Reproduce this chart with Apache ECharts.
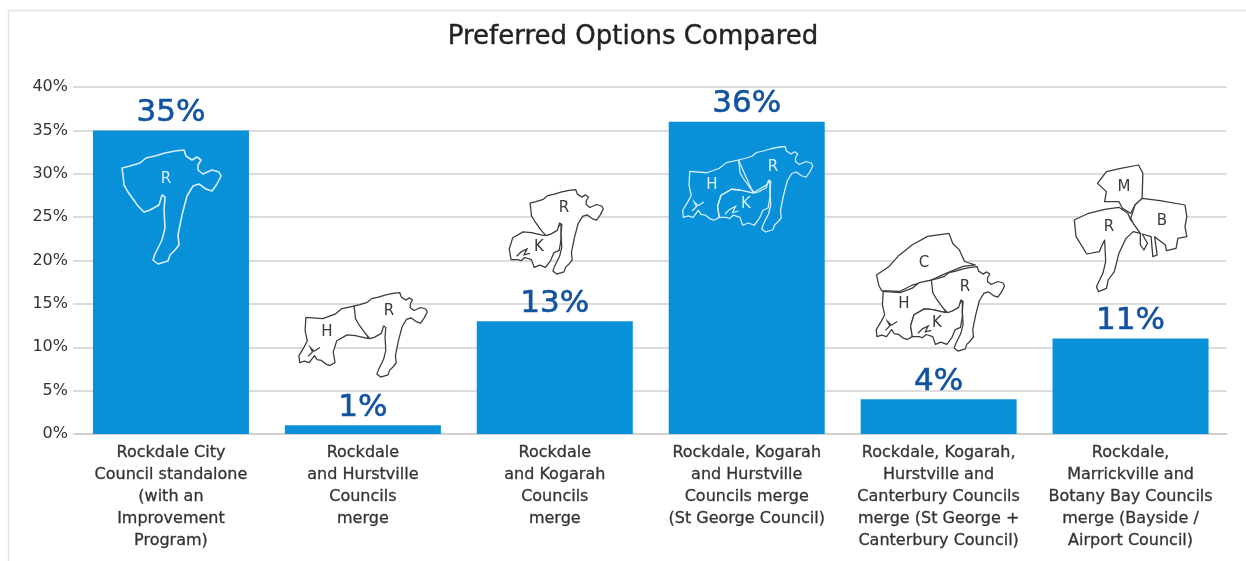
<!DOCTYPE html>
<html><head><meta charset="utf-8">
<style>html,body{margin:0;padding:0;background:#fff}#c{width:1246px;height:561px}</style>
<script src="https://cdn.jsdelivr.net/npm/echarts@6/dist/echarts.min.js"></script>
</head><body><div id="c"></div>
<script>
const categories = [
 "Rockdale City\nCouncil standalone\n(with an\nImprovement\nProgram)",
 "Rockdale\nand Hurstville\nCouncils\nmerge",
 "Rockdale\nand Kogarah\nCouncils\nmerge",
 "Rockdale, Kogarah\nand Hurstville\nCouncils merge\n(St George Council)",
 "Rockdale, Kogarah,\nHurstville and\nCanterbury Councils\nmerge (St George +\nCanterbury Council)",
 "Rockdale,\nMarrickville and\nBotany Bay Councils\nmerge (Bayside /\nAirport Council)"
];
const values = [35, 1, 13, 36, 4, 11];
const FONT = '"DejaVu Sans","Noto Sans",sans-serif';

// decorative council outlines, in the scale of the first (largest) map
const shapeR = [[122,168],[130,166],[140,163],[146,158],[155,156],[165,153],[175,151],[184,150],[186,156],[192,160],[197,157],[201,160],[198,165],[198,170],[203,174],[212,170],[219,172],[221,176],[217,184],[212,191],[206,189],[199,184],[193,186],[187,196],[182,215],[178,235],[179,245],[175,250],[170,255],[168,261],[158,264],[153,260],[155,254],[162,240],[165,228],[164,210],[165,197],[162,195],[159,205],[150,210],[144,212],[138,206],[128,192],[124,185],[123,175]];
const shapeH = [[122,168],[105.7,171.5],[96.4,179],[80,185],[57,183.3],[56,201.5],[59,215],[54.6,223.5],[47.6,235],[48.5,244.5],[55,242.6],[61.5,244.5],[68.5,235],[72,240.6],[78,241.6],[84,246.4],[89.4,248.3],[96.4,244.5],[94,230],[98.7,215],[112.7,207],[124,208],[141.5,212]];
const shapeK = [[141.5,212],[159,201.5],[164,195],[164,217],[161.5,232],[154.5,235],[150,245.4],[143,255],[135,252],[127.6,255],[124,244.5],[115,241.6],[110,246],[105.7,244.5],[96.4,244.5],[94,230],[98.7,215],[112.7,207],[124,208]];
const shapeC = [[48,161.2],[65,149.6],[77,136],[96,120.6],[117,109],[146,105],[151,118.6],[160,127.3],[167,143],[181.5,147.7],[165,149.6],[141,159.3],[122,168],[96,175],[79,183.5],[55,182.5],[51,175]];
const coastH = [[60,236],[66,230],[63,224],[68,229],[76,224]];
const coastK = [[104,240],[110,234],[118,230],[114,238],[122,236]];
const shapeR6 = [[1160,270],[1200,250],[1245,238],[1285,232],[1310,250],[1318,270],[1340,298],[1345,310],[1325,305],[1305,325],[1285,370],[1272,425],[1255,450],[1250,475],[1228,485],[1222,470],[1240,430],[1248,395],[1245,330],[1238,345],[1230,365],[1195,372],[1165,320]];
const shapeM6 = [[1250,125],[1290,115],[1340,105],[1352,130],[1350,205],[1330,225],[1318,250],[1295,235],[1285,215],[1245,215],[1250,185],[1225,160]];
const shapeB6 = [[1350,205],[1400,212],[1470,225],[1475,260],[1470,290],[1475,320],[1450,325],[1445,355],[1418,362],[1415,345],[1385,320],[1392,375],[1380,380],[1375,320],[1350,312],[1365,340],[1355,360],[1345,345],[1345,310],[1325,280],[1318,265],[1330,225]];

function poly(points, stroke, fill, lineWidth){
  return {type:'polygon', z:10, shape:{points}, style:{stroke, fill, lineWidth, lineJoin:'round'}};
}
function line(points, stroke, lineWidth){
  return {type:'polyline', z:11, shape:{points}, style:{stroke, fill:null, lineWidth}};
}
function mapGroup(x, y, s, children){
  return {type:'group', x, y, scaleX:s, scaleY:s, children};
}
function letter(t, x, y, color, size){
  return {type:'text', z:12, x, y, style:{text:t, fill:color, font:(size||15)+'px '+FONT, align:'center', verticalAlign:'middle'}};
}
const INK = '#3a3a3a', PAPER = '#fff', W = 1.7, PALE = '#d8eefa', NONE = 'transparent';
const maps = [
  mapGroup(0,0,1,[poly(shapeR,PALE,NONE,1.6)]),
  mapGroup(263.7,181.7,.74,[poly(shapeH,INK,PAPER,W),line(coastH,INK,W),poly(shapeR,INK,PAPER,W)]),
  mapGroup(439.7,78.7,.74,[poly(shapeK,INK,PAPER,W),line(coastK,INK,W),poly(shapeR,INK,PAPER,W)]),
  mapGroup(647,34,.75,[poly(shapeH,PALE,NONE,W),poly(shapeK,PALE,NONE,W),line(coastH,PALE,W),line(coastK,PALE,W),poly(shapeR,PALE,NONE,W)]),
  mapGroup(841,155.7,.74,[poly(shapeC,INK,PAPER,W),poly(shapeH,INK,PAPER,W),poly(shapeK,INK,PAPER,W),line(coastH,INK,W),line(coastK,INK,W),poly(shapeR,INK,PAPER,W)]),
  {type:'group', x:660, y:130, scaleX:1/2.8, scaleY:1/3, children:[poly(shapeR6,INK,PAPER,3.6),poly(shapeM6,INK,PAPER,3.6),poly(shapeB6,INK,PAPER,3.6)]}
];
const letters = [
  letter('R',166,179,PALE,15),
  letter('R',389,311,INK,15), letter('H',327,332,INK,15),
  letter('R',564,208,INK,15), letter('K',539,247,INK,15),
  letter('R',773,167,PALE,15), letter('H',712,185,PALE,15), letter('K',746,204,PALE,15),
  letter('C',924,263,INK,15), letter('R',965,287,INK,15), letter('H',904,304,INK,15), letter('K',937,323,INK,15),
  letter('M',1124,187,INK,15), letter('B',1162,221,INK,15), letter('R',1109,227,INK,15)
];
const frame = {type:'polyline', shape:{points:[[8.5,561],[8.5,10.5],[1246,10.5]]}, style:{stroke:'#e2e2e2', fill:null, lineWidth:1.5}};

const chart = echarts.init(document.getElementById('c'), null, {renderer:'canvas'});
chart.setOption({
  animation:false,
  backgroundColor:'#fff',
  title:{text:'Preferred Options Compared', left:628, top:19, textAlign:'center',
    textStyle:{fontFamily:FONT, fontSize:26, fontWeight:'normal', color:'#222', textBorderColor:'#222', textBorderWidth:0.4}},
  grid:{left:75, right:19.5, top:87, height:347, containLabel:false},
  xAxis:{type:'category', data:categories,
    axisLine:{lineStyle:{color:'#d0d0d0', width:2}}, axisTick:{show:false},
    axisLabel:{interval:0, margin:8, lineHeight:22, fontFamily:FONT, fontSize:16, color:'#333', textBorderColor:'#333', textBorderWidth:0.3}},
  yAxis:{type:'value', min:0, max:40, interval:5,
    axisLine:{show:false}, axisTick:{show:true,length:2,lineStyle:{color:'#dcdcdc',width:2}},
    splitLine:{lineStyle:{color:'#dcdcdc', width:2}},
    axisLabel:{margin:7, fontFamily:FONT, fontSize:16, color:'#333', formatter:'{value}%'}},
  series:[{type:'bar', data:values, barWidth:156, itemStyle:{color:'#0890d8'},
    label:{show:true, position:'top', distance:2, formatter:'{c}%', fontFamily:FONT, fontSize:31, fontWeight:'normal', color:'#12529f', textBorderColor:'#12529f', textBorderWidth:0.6}}],
  graphic:[frame].concat(maps, letters)
});
</script></body></html>
